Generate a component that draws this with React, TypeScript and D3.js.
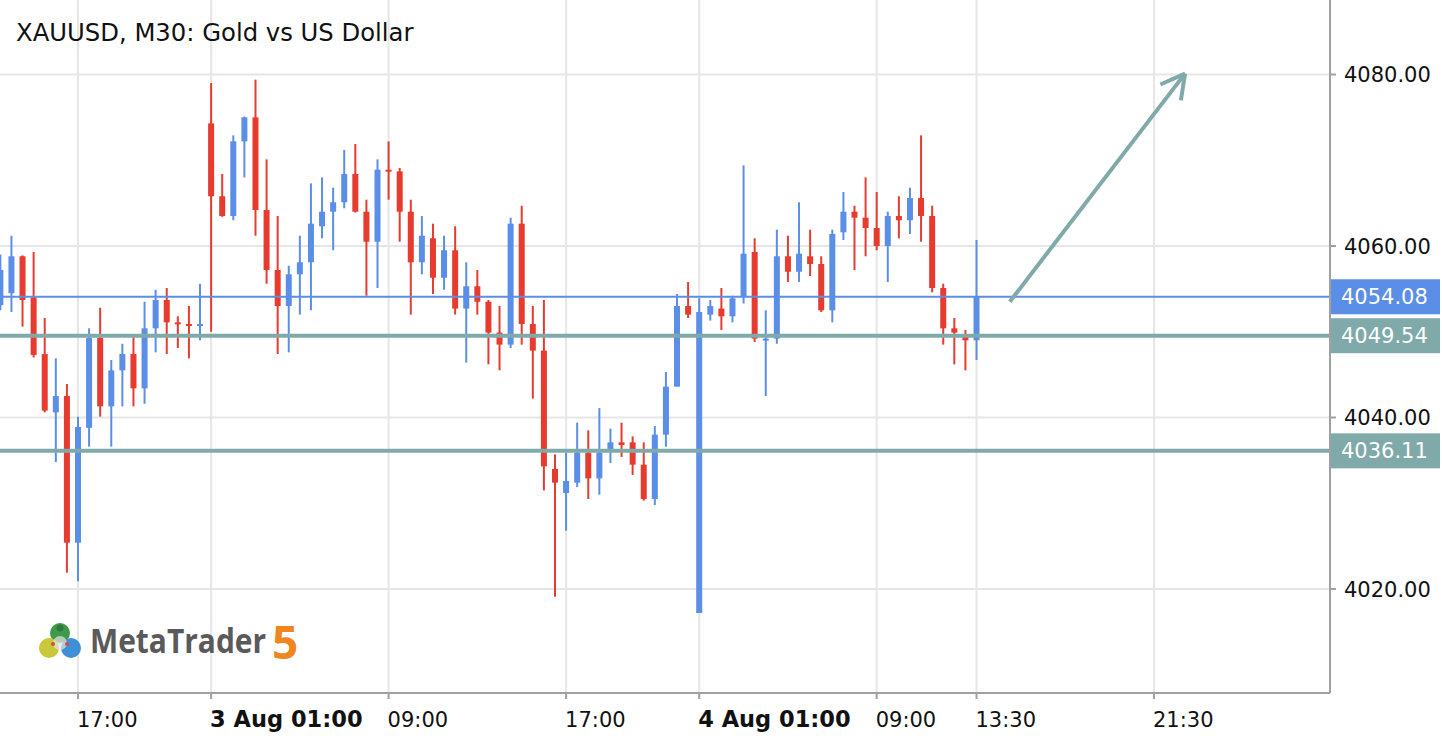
import * as d3 from "d3";

const WIDTH = 1442;
const HEIGHT = 740;
const PLOT_RIGHT = 1330;
const PLOT_BOTTOM = 693;

// bar index 0 = 17:00 on 2 Aug, one bar per 30 minutes (trading hours only)
const FIRST_INDEX = -7;

const opens = [
  4053.1, 4054.5, 4058.8, 4054.0, 4047.4, 4040.6, 4042.5, 4025.4, 4038.8, 4049.3,
  4041.3, 4045.5, 4047.4, 4043.4, 4050.4, 4053.7, 4051.1, 4050.9, 4050.7, 4074.3,
  4065.8, 4063.5, 4072.2, 4075.0, 4064.2, 4057.2, 4053.0, 4056.7, 4058.1, 4062.3,
  4064.0, 4065.1, 4068.4, 4064.0, 4060.5, 4068.9, 4068.7, 4064.0, 4058.1, 4060.9,
  4056.3, 4059.5, 4052.7, 4055.3, 4053.5, 4049.9, 4048.5, 4062.6, 4050.9, 4047.8,
  4034.0, 4031.2, 4032.4, 4035.9, 4032.9, 4036.1, 4037.1, 4037.1, 4034.5, 4030.5,
  4038.0, 4043.6, 4053.0, 4017.2, 4052.0, 4052.7, 4051.8, 4054.1, 4059.3, 4049.1,
  4049.2, 4058.8, 4057.0, 4058.8, 4057.9, 4052.5, 4061.6, 4064.0, 4063.3, 4062.1,
  4060.0, 4063.5, 4063.0, 4065.6, 4063.5, 4055.1, 4050.4, 4049.5, 4049.0,
];
const highs = [
  4059.0, 4061.2, 4058.9, 4059.3, 4051.6, 4046.9, 4043.9, 4040.1, 4050.4, 4052.8,
  4046.7, 4048.6, 4049.5, 4053.5, 4054.9, 4055.1, 4051.8, 4053.0, 4055.6, 4079.0,
  4068.4, 4072.9, 4075.1, 4079.4, 4070.1, 4063.5, 4057.7, 4061.2, 4067.3, 4068.0,
  4066.8, 4071.2, 4071.9, 4065.4, 4070.1, 4072.2, 4069.1, 4065.4, 4063.5, 4062.6,
  4061.2, 4062.3, 4058.1, 4057.2, 4053.7, 4053.0, 4063.3, 4064.7, 4053.0, 4053.7,
  4035.7, 4035.9, 4039.4, 4038.5, 4041.1, 4038.7, 4039.4, 4037.8, 4037.1, 4039.0,
  4045.3, 4054.4, 4055.8, 4053.9, 4053.7, 4055.1, 4054.2, 4069.4, 4060.9, 4052.5,
  4061.9, 4061.2, 4065.1, 4061.9, 4058.8, 4061.9, 4066.3, 4064.7, 4068.0, 4066.3,
  4064.0, 4065.8, 4066.8, 4072.9, 4064.7, 4055.6, 4051.6, 4050.2, 4060.7,
];
const lows = [
  4052.5, 4052.3, 4050.6, 4047.0, 4040.6, 4034.8, 4021.9, 4020.9, 4036.6, 4040.1,
  4036.6, 4041.3, 4041.3, 4041.6, 4047.6, 4047.4, 4048.1, 4046.9, 4049.0, 4050.0,
  4063.4, 4063.0, 4068.0, 4061.2, 4055.6, 4047.4, 4047.6, 4052.0, 4052.5, 4060.9,
  4059.5, 4064.4, 4063.9, 4054.2, 4055.1, 4065.4, 4060.5, 4052.0, 4056.7, 4054.4,
  4054.9, 4052.0, 4046.4, 4052.0, 4046.2, 4045.5, 4048.1, 4048.5, 4042.2, 4031.5,
  4019.1, 4026.8, 4031.9, 4030.5, 4031.0, 4034.7, 4035.4, 4033.3, 4030.3, 4029.8,
  4036.6, 4043.6, 4051.6, 4017.2, 4051.3, 4050.2, 4051.1, 4053.3, 4048.8, 4042.5,
  4048.6, 4055.8, 4055.8, 4056.5, 4052.3, 4051.1, 4060.7, 4057.2, 4058.8, 4059.5,
  4055.8, 4060.9, 4061.4, 4060.5, 4054.6, 4048.5, 4046.2, 4045.5, 4046.7,
];
const closes = [
  4057.2, 4058.8, 4053.7, 4047.3, 4040.8, 4042.5, 4025.4, 4038.9, 4049.3, 4041.3,
  4045.5, 4047.4, 4043.4, 4050.4, 4053.7, 4051.1, 4050.9, 4050.7, 4050.9, 4065.8,
  4063.5, 4072.2, 4075.0, 4064.2, 4057.2, 4053.0, 4056.7, 4058.1, 4062.6, 4064.0,
  4065.1, 4068.4, 4064.0, 4060.5, 4068.9, 4068.7, 4064.0, 4058.1, 4061.2, 4056.3,
  4059.5, 4052.7, 4055.3, 4053.5, 4049.9, 4048.5, 4062.6, 4050.9, 4047.8, 4034.3,
  4032.4, 4032.6, 4035.9, 4032.9, 4035.9, 4037.1, 4036.8, 4034.5, 4030.5, 4038.0,
  4043.6, 4053.0, 4052.0, 4052.3, 4053.0, 4051.8, 4053.9, 4059.1, 4049.2, 4049.2,
  4058.8, 4057.0, 4059.1, 4057.9, 4052.5, 4061.4, 4064.0, 4063.3, 4062.1, 4060.0,
  4063.5, 4063.0, 4065.6, 4063.5, 4055.1, 4050.4, 4049.9, 4049.0, 4054.08,
];

const priceTicks = [4020, 4040, 4060, 4080];
const timeTickIndex = [0, 12, 28, 44, 56, 72, 81, 97];
const timeTickLabels = ["17:00", "3 Aug 01:00", "09:00", "17:00", "4 Aug 01:00", "09:00", "13:30", "21:30"];
const timeTickBold = [false, true, false, false, true, false, false, false];

const bidLevel = 4054.08;
const levels = [4049.54, 4036.11];

// arrow drawn from bar/price to bar/price
const arrowFrom = { index: 84, price: 4053.5 };
const arrowTo = { index: 99.8, price: 4080.1 };

const UP = "#5b8ee6";
const DOWN = "#e63b2e";
const TEAL = "#80aaaa";
const GRID = "#e6e6e6";

export default function App() {
  const x = d3.scaleLinear().domain([0, 97]).range([78, 1154]);
  const y = d3.scaleLinear().domain([4020, 4080]).range([589, 74.5]);
  const fmt = d3.format(".2f");

  const candles = opens.map((o, i) => ({
    index: FIRST_INDEX + i,
    open: o,
    high: highs[i],
    low: lows[i],
    close: closes[i],
  }));

  const ax = x(arrowTo.index);
  const ay = y(arrowTo.price);
  const bx = x(arrowFrom.index);
  const by = y(arrowFrom.price);
  const ang = Math.atan2(ay - by, ax - bx);
  const head = 27;
  const spread = 0.5;

  return (
    <svg
      width={WIDTH}
      height={HEIGHT}
      style={{ position: "absolute", left: 0, top: 0, display: "block", background: "#fff" }}
      fontFamily="'DejaVu Sans', sans-serif"
    >
      <defs>
        <clipPath id="plot">
          <rect x={0} y={0} width={PLOT_RIGHT} height={PLOT_BOTTOM} />
        </clipPath>
      </defs>

      {/* grid */}
      <g stroke={GRID} strokeWidth={2}>
        {priceTicks.map((p) => (
          <line key={p} x1={0} x2={PLOT_RIGHT} y1={y(p)} y2={y(p)} />
        ))}
        {timeTickIndex.map((t) => (
          <line key={t} x1={x(t)} x2={x(t)} y1={0} y2={PLOT_BOTTOM} />
        ))}
      </g>

      <text x={16} y={41} fontSize={24.3} fill="#111">
        XAUUSD, M30: Gold vs US Dollar
      </text>

      {/* MetaTrader logo */}
      <g>
        <circle cx={60} cy={633} r={10} fill="#3f9a4a" />
        <circle cx={49} cy={648} r={10} fill="#c9c83a" />
        <circle cx={71} cy={648} r={10} fill="#3f8fd6" />
        <circle cx={60} cy={643} r={7} fill="#e6e6e6" opacity={0.7} />
        <circle cx={60} cy={628} r={3.5} fill="#2f7a38" />
        <circle cx={53} cy={644} r={2} fill="#d94a3a" />
        <circle cx={67} cy={644} r={2} fill="#d94a3a" />
        <text
          transform="translate(90,653) scale(0.88,1)"
          fontFamily="'Open Sans', sans-serif"
          fontWeight={700}
          fontSize={34}
          fill="#5a5a5a"
        >
          MetaTrader
        </text>
        <text x={272} y={659} fontFamily="'Open Sans', sans-serif" fontWeight={700} fontSize={46} fill="#f0861f">
          5
        </text>
      </g>

      {/* candles */}
      <g clipPath="url(#plot)">
        {candles.map((c) => {
          const cx = x(c.index);
          const up = c.close >= c.open;
          const color = up ? UP : DOWN;
          const top = y(Math.max(c.open, c.close));
          const bot = y(Math.min(c.open, c.close));
          return (
            <g key={c.index}>
              <line x1={cx} x2={cx} y1={y(c.high)} y2={y(c.low)} stroke={color} strokeWidth={2} />
              <rect x={cx - 3} y={top} width={6} height={Math.max(bot - top, 2)} fill={color} />
            </g>
          );
        })}
      </g>

      {/* levels */}
      <line x1={0} x2={PLOT_RIGHT} y1={y(bidLevel)} y2={y(bidLevel)} stroke={UP} strokeWidth={2} />
      {levels.map((l) => (
        <line key={l} x1={0} x2={PLOT_RIGHT} y1={y(l)} y2={y(l)} stroke={TEAL} strokeWidth={4} />
      ))}

      {/* arrow */}
      <g stroke={TEAL} strokeWidth={4} fill="none" strokeLinecap="butt">
        <line x1={bx} y1={by} x2={ax} y2={ay} />
        <line x1={ax} y1={ay} x2={ax - head * Math.cos(ang - spread)} y2={ay - head * Math.sin(ang - spread)} />
        <line x1={ax} y1={ay} x2={ax - head * Math.cos(ang + spread)} y2={ay - head * Math.sin(ang + spread)} />
      </g>

      {/* axes */}
      <line x1={PLOT_RIGHT} x2={PLOT_RIGHT} y1={0} y2={PLOT_BOTTOM} stroke="#a0a0a0" strokeWidth={2} />
      <line x1={0} x2={PLOT_RIGHT} y1={PLOT_BOTTOM} y2={PLOT_BOTTOM} stroke="#a0a0a0" strokeWidth={2} />

      {priceTicks.map((p) => (
        <g key={p}>
          <line x1={PLOT_RIGHT} x2={PLOT_RIGHT + 6} y1={y(p)} y2={y(p)} stroke="#a0a0a0" strokeWidth={2} />
          <text x={1344} y={y(p)} dy="0.36em" fontSize={21} fill="#111">
            {fmt(p)}
          </text>
        </g>
      ))}

      {timeTickIndex.map((t, i) => (
        <g key={t}>
          <line x1={x(t)} x2={x(t)} y1={PLOT_BOTTOM} y2={PLOT_BOTTOM + 6} stroke="#a0a0a0" strokeWidth={2} />
          <text
            x={x(t) - 1}
            y={727}
            fontSize={timeTickBold[i] ? 22.5 : 21}
            fontWeight={timeTickBold[i] ? 700 : 400}
            fill="#111"
          >
            {timeTickLabels[i]}
          </text>
        </g>
      ))}

      {/* price labels */}
      {[
        { v: bidLevel, c: UP },
        { v: levels[0], c: TEAL },
        { v: levels[1], c: TEAL },
      ].map((d) => (
        <g key={d.v}>
          <rect x={PLOT_RIGHT + 1} y={y(d.v) - 17.5} width={WIDTH - PLOT_RIGHT - 3} height={35} fill={d.c} />
          <text x={1341} y={y(d.v)} dy="0.36em" fontSize={21} fill="#fff">
            {fmt(d.v)}
          </text>
        </g>
      ))}
    </svg>
  );
}
